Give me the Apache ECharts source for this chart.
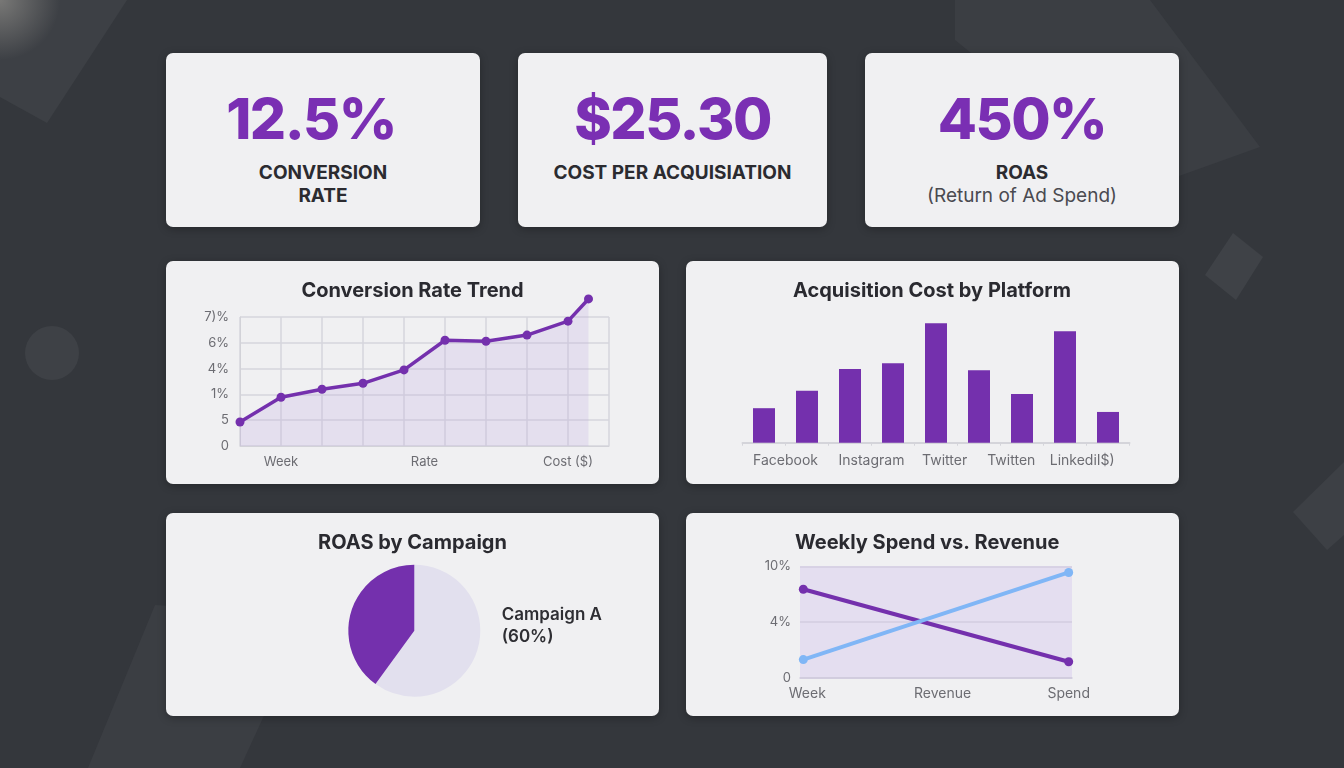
<!DOCTYPE html>
<html>
<head>
<meta charset="utf-8">
<title>Ad Performance Dashboard</title>
<script src="https://cdn.jsdelivr.net/npm/echarts@6/dist/echarts.min.js"></script>
<style>
  html, body { margin: 0; padding: 0; }
  body {
    width: 1344px; height: 768px; overflow: hidden; position: relative;
    background: #34373c;
    font-family: Inter, 'Noto Sans', sans-serif;
  }
  #bg { position: absolute; left: 0; top: 0; }
  .card {
    position: absolute; background: #f0f0f2; border-radius: 7px;
    box-shadow: 0 2px 8px rgba(0, 0, 0, 0.28);
  }
  .kpi-value {
    position: absolute; left: 0; right: 0; text-align: center;
    font-size: 57px; line-height: 60px; font-weight: 800; color: #7a2fb3;
    letter-spacing: -1.5px;
  }
  .kpi-label {
    position: absolute; left: 0; right: 0; text-align: center;
    font-size: 19px; line-height: 23px; color: #2b2b30;
  }
  .kpi-label b { font-weight: 700; }
  .kpi-label .sub { font-weight: 400; color: #4a4a50; }
  .chart { position: absolute; left: 0; top: 0; width: 100%; height: 100%; }
</style>
</head>
<body>
<svg id="bg" width="1344" height="768">
  <defs>
    <radialGradient id="glow" cx="0" cy="0" r="1" gradientUnits="userSpaceOnUse"
      gradientTransform="translate(0 0) scale(60)">
      <stop offset="0" stop-color="#a9a69f" stop-opacity="0.55"/>
      <stop offset="1" stop-color="#a9a69f" stop-opacity="0"/>
    </radialGradient>
  </defs>
  <polygon points="0,0 127,0 47,123 0,97" fill="#3d4045"/>
  <rect x="0" y="0" width="80" height="80" fill="url(#glow)"/>
  <polygon points="955,0 1150,0 1260,147 1140,190 955,40" fill="#3b3e43"/>
  <polygon points="1233,233 1263,257 1236,300 1205,275" fill="#3f4247"/>
  <polygon points="1293,512 1344,462 1344,535 1327,550" fill="#3d4045"/>
  <polygon points="155,605 310,615 240,768 88,768" fill="#3b3e43"/>
  <circle cx="52" cy="353" r="27" fill="#3e4146"/>
</svg>

<div class="card" style="left:166px;top:53px;width:314px;height:174px">
  <div class="kpi-value" id="kpi0" style="top:36px;padding-right:24px"></div>
  <div class="kpi-label" id="kpil0" style="top:108px"></div>
</div>
<div class="card" style="left:518px;top:53px;width:309px;height:174px">
  <div class="kpi-value" id="kpi1" style="top:36px"></div>
  <div class="kpi-label" id="kpil1" style="top:108px"></div>
</div>
<div class="card" style="left:865px;top:53px;width:314px;height:174px">
  <div class="kpi-value" id="kpi2" style="top:36px"></div>
  <div class="kpi-label" id="kpil2" style="top:108px"></div>
</div>

<div class="card" style="left:166px;top:261px;width:493px;height:223px"><div id="trend" class="chart"></div></div>
<div class="card" style="left:686px;top:261px;width:493px;height:223px"><div id="cost" class="chart"></div></div>
<div class="card" style="left:166px;top:513px;width:493px;height:203px"><div id="roas" class="chart"></div></div>
<div class="card" style="left:686px;top:513px;width:493px;height:203px"><div id="weekly" class="chart"></div></div>

<script>
// KPI tiles
const kpiValues = ['12.5%', '$25.30', '450%']
const kpiLabels = ['<b>CONVERSION<br>RATE</b>', '<b>COST PER ACQUISIATION</b>', '<b>ROAS</b><br><span class="sub">(Return of Ad Spend)</span>']

// Conversion Rate Trend (values in tick steps, labels as printed)
const trendWeeks = [0, 1, 2, 3, 4, 5, 6, 7, 8, 8.5]
const trendRate = [0.93, 1.89, 2.2, 2.43, 2.95, 4.1, 4.06, 4.3, 4.84, 5.7]
const trendYTicks = ['0', '5', '1%', '4%', '6%', '7)%']
const trendXLabelPos = [1, 4.5, 8]
const trendXLabels = ['Week', 'Rate', 'Cost ($)']

// Acquisition Cost by Platform
const platformCost = [13.8, 20.8, 29.5, 31.8, 47.8, 29.0, 19.5, 44.6, 12.3]
const platformLabelPos = [0.5, 2.5, 4.2, 5.75, 7.4]
const platformLabels = ['Facebook', 'Instagram', 'Twitter', 'Twitten', 'LinkediI$)']

// ROAS by Campaign
const campaigns = ['Campaign A', 'Campaign B']
const roasShare = [60, 40]

// Weekly Spend vs. Revenue (values in tick steps)
const weeklyCats = ['Week', 'Revenue', 'Spend']
const weeklyLabelPos = [0.03, 1.05, 2]
const spendVals = [1.59, null, 0.29]
const revenueVals = [0.33, null, 1.89]
const weeklyYTicks = ['0', '4%', '10%']

const PURPLE = '#7430ad'
const FONT = 'Inter, "Noto Sans", sans-serif'
const AXIS_TEXT = { color: '#6c6c72', fontFamily: FONT }

kpiValues.forEach((v, i) => {
    document.getElementById('kpi' + i).textContent = v
    document.getElementById('kpil' + i).innerHTML = kpiLabels[i]
})

function titleOf(text, left) {
    return {
        text,
        left,
        top: 15,
        textStyle: { fontSize: 20, fontWeight: 700, color: '#2a2a30', fontFamily: FONT },
    }
}

function mount(id, option) {
    const chart = echarts.init(document.getElementById(id), null, { renderer: 'canvas' })
    chart.setOption(option)
    return chart
}

// trend line
mount('trend', {
    animation: false,
    title: titleOf('Conversion Rate Trend', 'center'),
    grid: { left: 74, right: 50, top: 56, bottom: 38 },
    xAxis: [
        {
            type: 'value', min: 0, max: 9, interval: 1,
            axisLine: { show: true, lineStyle: { color: '#d2d2d8' } },
            axisTick: { show: false },
            axisLabel: { show: false },
            splitLine: { show: true, lineStyle: { color: '#d6d6dc', width: 1.5 } },
        },
        {
            type: 'value', min: 0, max: 9, position: 'bottom',
            axisLine: { show: false }, axisTick: { show: false }, splitLine: { show: false },
            axisLabel: {
                ...AXIS_TEXT, fontSize: 13, margin: 10,
                customValues: trendXLabelPos,
                formatter: v => trendXLabels[trendXLabelPos.indexOf(v)] || '',
            },
        },
    ],
    yAxis: {
        type: 'value', min: 0, max: 5, interval: 1,
        axisLine: { show: true, lineStyle: { color: '#d2d2d8' } },
        axisTick: { show: false },
        splitLine: { lineStyle: { color: '#d6d6dc', width: 1.5 } },
        axisLabel: { ...AXIS_TEXT, fontSize: 13, margin: 11, formatter: v => trendYTicks[v] },
    },
    series: [{
        type: 'line',
        clip: false,
        data: trendWeeks.map((w, i) => [w, trendRate[i]]),
        symbol: 'circle', symbolSize: 9,
        itemStyle: { color: PURPLE },
        lineStyle: { color: PURPLE, width: 3.5 },
        areaStyle: { color: 'rgba(170, 140, 222, 0.24)' },
    }],
})

// bars
mount('cost', {
    animation: false,
    title: titleOf('Acquisition Cost by Platform', 102),
    grid: { left: 56.5, right: 49.5, top: 31.7, bottom: 41.3 },
    xAxis: [
        {
            type: 'category', data: platformCost.map((_, i) => i),
            axisLine: { lineStyle: { color: '#d4d4da', width: 2 } },
            axisTick: { show: true, length: 3, lineStyle: { color: '#d4d4da' } },
            axisLabel: { show: false },
        },
        {
            type: 'value', min: -0.5, max: 8.5, position: 'bottom',
            axisLine: { show: false }, axisTick: { show: false }, splitLine: { show: false },
            axisLabel: {
                ...AXIS_TEXT, fontSize: 14, margin: 11,
                customValues: platformLabelPos,
                formatter: v => platformLabels[platformLabelPos.indexOf(v)] || '',
            },
        },
    ],
    yAxis: { type: 'value', min: 0, max: 60, show: false },
    series: [{
        type: 'bar', xAxisIndex: 0,
        data: platformCost,
        barWidth: 22,
        itemStyle: { color: PURPLE },
    }],
})

// pie
mount('roas', {
    animation: false,
    title: titleOf('ROAS by Campaign', 'center'),
    color: ['#e2e0ee', PURPLE],
    series: [{
        type: 'pie',
        center: [248.3, 117.7],
        radius: 66,
        startAngle: 90,
        data: campaigns.map((name, i) => ({
            name, value: roasShare[i],
            label: { show: i === 0 },
        })),
        label: {
            position: 'outside',
            formatter: '{b}\n({d}%)',
            color: '#2e2e33', fontSize: 17, fontWeight: 600, lineHeight: 22,
            fontFamily: FONT, align: 'left',
        },
        labelLine: { show: false, length: 8, length2: 0 },
        labelLayout: { dx: 12, dy: -28 },
        emphasis: { disabled: true },
    }],
})

// weekly lines
mount('weekly', {
    animation: false,
    title: titleOf('Weekly Spend vs. Revenue', 104),
    grid: {
        left: 114, right: 107, top: 53.3, bottom: 38,
        show: true, backgroundColor: '#e4def0', borderWidth: 0,
    },
    xAxis: {
        type: 'value', min: -0.025, max: 2.025,
        axisLine: { show: true, lineStyle: { color: '#d0cadc', width: 1.5 } },
        axisTick: { show: false }, splitLine: { show: false },
        axisLabel: {
            ...AXIS_TEXT, fontSize: 14, margin: 9,
            customValues: weeklyLabelPos,
            formatter: v => weeklyCats[weeklyLabelPos.indexOf(v)] || '',
        },
    },
    yAxis: {
        type: 'value', min: 0, max: 2, interval: 1,
        axisLine: { show: false }, axisTick: { show: false },
        splitLine: { lineStyle: { color: '#d3cce0', width: 1.5 } },
        axisLabel: { ...AXIS_TEXT, fontSize: 13, margin: 9, formatter: v => weeklyYTicks[v] },
    },
    series: [
        {
            name: 'Spend', type: 'line', connectNulls: true,
            data: spendVals.map((v, i) => [i, v]),
            symbol: 'circle', symbolSize: 9,
            itemStyle: { color: PURPLE }, lineStyle: { color: PURPLE, width: 4 },
        },
        {
            name: 'Revenue', type: 'line', connectNulls: true,
            data: revenueVals.map((v, i) => [i, v]),
            symbol: 'circle', symbolSize: 9,
            itemStyle: { color: '#80b6f6' }, lineStyle: { color: '#80b6f6', width: 4 },
        },
    ],
})
</script>
</body>
</html>
